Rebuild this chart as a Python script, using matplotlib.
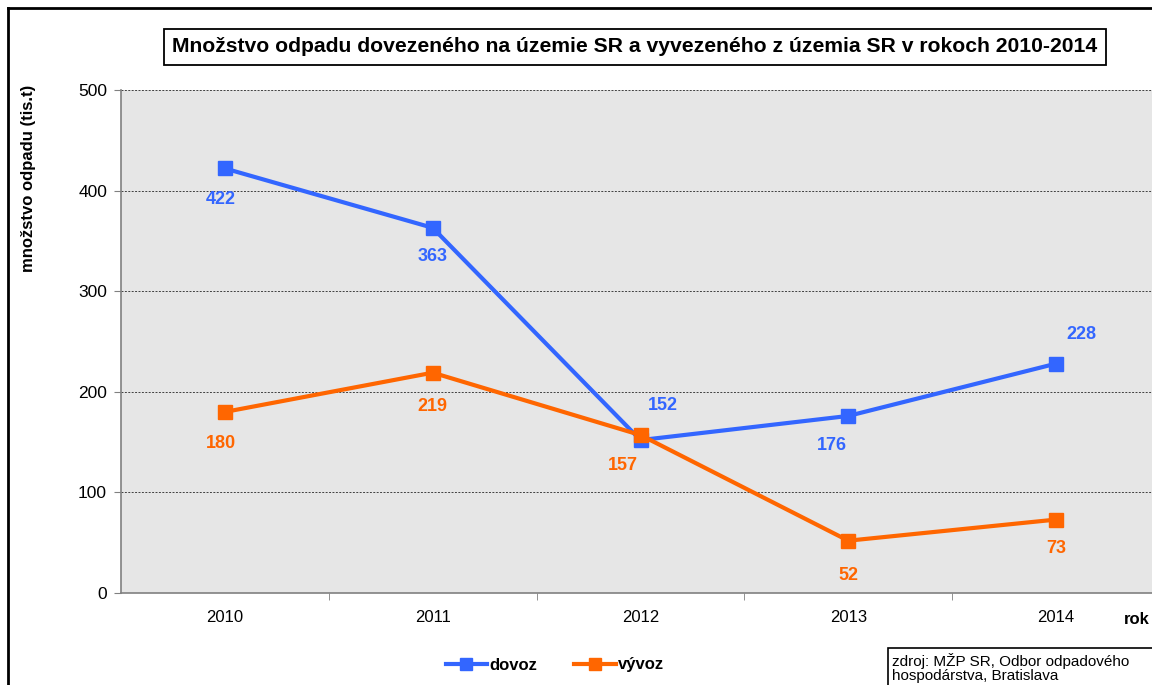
import matplotlib.pyplot as plt
from matplotlib.patches import Rectangle
from matplotlib.lines import Line2D

plt.rcParams["font.family"] = ["Liberation Sans", "DejaVu Sans"]

roky = ["2010", "2011", "2012", "2013", "2014"]
dovoz = [422, 363, 152, 176, 228]
vyvoz = [180, 219, 157, 52, 73]

# label offsets in points (dx, dy)
dovoz_off = [(-3, -22), (0, -21), (16, 25), (-12, -21), (18, 21)]
vyvoz_off = [(-3, -23), (0, -24), (-13, -22), (0, -25), (0, -21)]

blue = "#3366FF"
orange = "#FF6600"

W, H = 1152, 685
fig = plt.figure(figsize=(W / 100, H / 100), dpi=100)
ax = fig.add_axes([121 / W, 1 - 593 / H, (1160 - 121) / W, (593 - 90) / H])
ax.set_facecolor("#E6E6E6")

x = list(range(len(roky)))
ax.plot(x, dovoz, color=blue, lw=3, marker="s", ms=9.5, label="dovoz", zorder=3)
ax.plot(x, vyvoz, color=orange, lw=3, marker="s", ms=9.5, label="vývoz", zorder=4)

for i in x:
    ax.annotate(str(dovoz[i]), (i, dovoz[i]), xytext=dovoz_off[i], textcoords="offset points",
                ha="center", va="center", color=blue, fontsize=13, fontweight="bold", zorder=5)
    ax.annotate(str(vyvoz[i]), (i, vyvoz[i]), xytext=vyvoz_off[i], textcoords="offset points",
                ha="center", va="center", color=orange, fontsize=13, fontweight="bold", zorder=5)

ax.set_xlim(-0.5, len(roky) - 0.5)
ax.set_ylim(0, 500)
ax.set_yticks([0, 100, 200, 300, 400, 500])
ax.set_xticks(x)
ax.set_xticklabels(roky)
ax.set_xticks([i + 0.5 for i in x], minor=True)
ax.tick_params(axis="x", which="major", length=0, pad=12, labelsize=12)
ax.tick_params(axis="x", which="minor", length=5, color="#808080")
ax.tick_params(axis="y", length=5, color="#808080", labelsize=12.5, pad=5)
ax.grid(axis="y", color="#404040", linestyle=(0, (2, 1.5)), linewidth=0.7)
ax.set_axisbelow(True)
for s in ["top", "right"]:
    ax.spines[s].set_visible(False)
for s in ["left", "bottom"]:
    ax.spines[s].set_color("#808080")
    ax.spines[s].set_linewidth(1.2)

ax.text(-0.0895, 1.01, "množstvo odpadu (tis.t)", transform=ax.transAxes, rotation=90,
        ha="center", va="top", fontsize=12, fontweight="bold")

fig.text(1150 / W, 1 - 620 / H, "rok", ha="right", va="center", fontsize=12, fontweight="bold")

fig.text(635 / W, 1 - 47 / H, "Množstvo odpadu dovezeného na územie SR a vyvezeného z územia SR v rokoch 2010-2014",
         ha="center", va="center", fontsize=15.2, fontweight="bold",
         bbox=dict(boxstyle="square,pad=0.42", fc="white", ec="black", lw=1.3))

fig.legend(loc="center", bbox_to_anchor=(555 / W, 1 - 665 / H), ncol=2, frameon=False,
           prop={"weight": "bold", "size": 12}, handlelength=2.5, columnspacing=2.2,
           handletextpad=0.15, markerscale=0.9)

fig.text(892 / W, 1 - 668 / H, "zdroj: MŽP SR, Odbor odpadového\nhospodárstva, Bratislava",
         ha="left", va="center", fontsize=11, linespacing=1.0)
fig.add_artist(Rectangle((888 / W, -0.05), 0.5, 1 - 648 / H + 0.05, transform=fig.transFigure,
                         fill=False, ec="black", lw=1.2))

# outer frame
fig.add_artist(Line2D([8 / W, 8 / W], [0, 1 - 8 / H], transform=fig.transFigure, color="black", lw=2))
fig.add_artist(Line2D([8 / W, 1], [1 - 8 / H, 1 - 8 / H], transform=fig.transFigure, color="black", lw=2))

fig.savefig("out.png", dpi=100)
